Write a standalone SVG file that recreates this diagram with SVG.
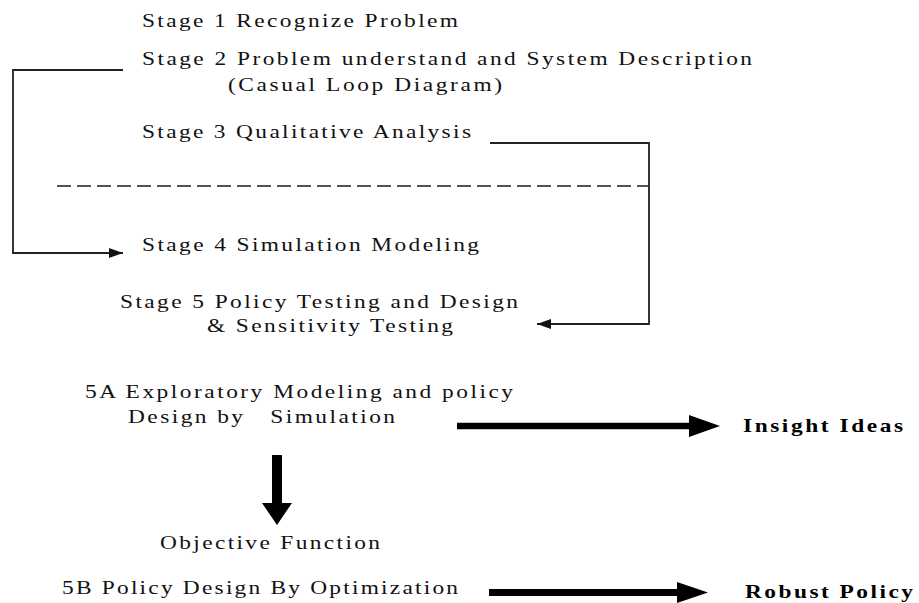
<svg xmlns="http://www.w3.org/2000/svg" width="919" height="603" viewBox="0 0 919 603">
<style>
.t{font-family:"Liberation Serif","Times New Roman",serif;font-size:18px;fill:#111;}
.b{font-family:"Liberation Serif","Times New Roman",serif;font-size:18px;font-weight:bold;fill:#000;}
.ln{fill:none;stroke:#222;stroke-width:1.8;}
.dash{fill:none;stroke:#555;stroke-width:2;stroke-dasharray:14 6;}
.fat{fill:#000;}
</style>
<defs>
<marker id="ah" markerWidth="14" markerHeight="10" refX="14" refY="5" orient="auto" markerUnits="userSpaceOnUse">
<path d="M0,0 L14,5 L0,10 Z" fill="#111"/>
</marker>
</defs>
<rect width="919" height="603" fill="#fff"/>
<g id="stage1" transform="scale(1.3,1)"><text class="t" x="109.23" y="27" textLength="243.08">Stage 1 Recognize Problem</text></g>
<g id="stage2" transform="scale(1.3,1)"><text class="t" x="109.23" y="65" textLength="469.23">Stage 2 Problem understand and System Description</text>
<text class="t" x="175.38" y="91" textLength="210.77">(Casual Loop Diagram)</text></g>
<g id="stage3" transform="scale(1.3,1)"><text class="t" x="109.23" y="138" textLength="253.08">Stage 3 Qualitative Analysis</text></g>
<g id="stage4" transform="scale(1.3,1)"><text class="t" x="109.23" y="251" textLength="259.23">Stage 4 Simulation Modeling</text></g>
<g id="stage5" transform="scale(1.3,1)"><text class="t" x="92.31" y="308" textLength="306.15">Stage 5 Policy Testing and Design</text>
<text class="t" x="159.23" y="332" textLength="189.23">&amp; Sensitivity Testing</text></g>
<g id="stage5a" transform="scale(1.3,1)"><text class="t" x="65.38" y="398" textLength="329.23">5A Exploratory Modeling and policy</text>
<text class="t" x="98.46" y="423" textLength="205.38" xml:space="preserve">Design by   Simulation</text></g>
<g id="insight" transform="scale(1.3,1)"><text class="b" x="571.54" y="432" textLength="123.08">Insight Ideas</text></g>
<g id="objective" transform="scale(1.3,1)"><text class="t" x="123.08" y="549" textLength="169.23">Objective Function</text></g>
<g id="stage5b" transform="scale(1.3,1)"><text class="t" x="47.69" y="594" textLength="304.62">5B Policy Design By Optimization</text></g>
<g id="robust" transform="scale(1.3,1)"><text class="b" x="573.08" y="598" textLength="129.23">Robust Policy</text></g>
<g id="separator"><line class="dash" x1="57" y1="186" x2="649" y2="186"/></g>
<g id="connectors">
<polyline class="ln" points="123,70 13,70 13,253 123,253" marker-end="url(#ah)"/>
<polyline class="ln" points="490,143 649,143 649,324 537,324" marker-end="url(#ah)"/>
<path class="fat" d="M457,422.8 L689,422.8 L689,415 L720,426 L689,437 L689,429.2 L457,429.2 Z"/>
<path class="fat" d="M272,455 L282,455 L282,503 L292,503 L277,525 L262,503 L272,503 Z"/>
<path class="fat" d="M489,589 L677,589 L677,582 L708,592.5 L677,603 L677,596 L489,596 Z"/>
</g>
</svg>
